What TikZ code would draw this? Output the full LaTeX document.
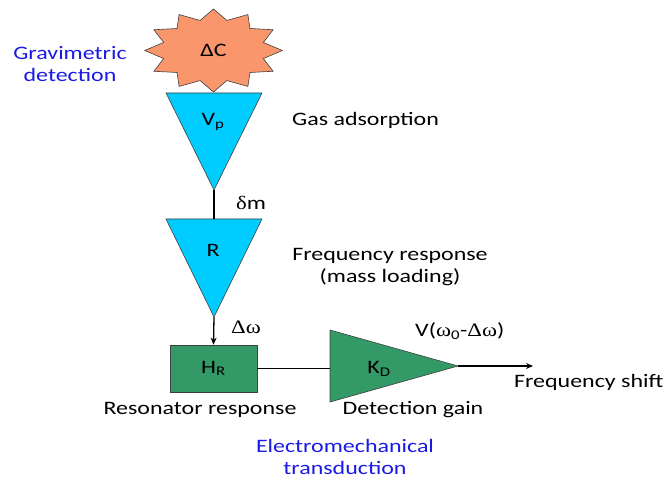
\documentclass[tikz,border=0pt]{standalone}
\usepackage{fontspec}
\setmainfont[FakeStretch=1.26]{Carlito}
\newfontfamily\grk[FakeStretch=1.2]{Liberation Serif}
\usetikzlibrary{arrows.meta}
\definecolor{starorange}{HTML}{F9966B}
\definecolor{cyanfill}{HTML}{00CCFF}
\definecolor{greenfill}{HTML}{339966}
\definecolor{bluetxt}{HTML}{1A1AE6}
\begin{document}
\begin{tikzpicture}[x=1pt,y=-1pt,
  font=\fontsize{19}{22}\selectfont,
  outline/.style={draw=black!75, line width=0.6pt},
  conn/.style={draw=black, line width=1.3pt},
  arr/.style={conn, -{Stealth[length=7pt,width=6pt]}},
  bluetext/.style={text=bluetxt, align=center, inner sep=0pt},
  lbl/.style={inner sep=0pt, anchor=west},
  clbl/.style={inner sep=0pt, align=center}]
\useasboundingbox (0,0) rectangle (666,478);
% star
\draw[outline, fill=starorange] (213.5,9)
  \foreach \i in {1,...,23} { -- ({213.5+68.8*(1-0.25*mod(\i,2))*cos(90+15*\i)}, {50.5-41.5*(1-0.25*mod(\i,2))*sin(90+15*\i)}) } -- cycle;
\node (dc) at (213.5,50.5) {ΔC};
% triangle Vp
\draw[outline, fill=cyanfill] (166,93) -- (262,93) -- (214,190) -- cycle;
\coordinate (vpapex) at (214,190);
\node (vp) at (213,122) {V\textsubscript{p}};
% triangle R
\draw[outline, fill=cyanfill] (166,219) -- (262,219) -- (214,317) -- cycle;
\coordinate (rtop) at (214,219);
\coordinate (rapex) at (214,317);
\node (r) at (213,250) {R};
% box HR
\node[outline, fill=greenfill, minimum width=87pt, minimum height=47pt, inner sep=0pt] (hr) at (213.5,368.5) {H\textsubscript{R}};
% amplifier
\draw[outline, fill=greenfill] (330,330) -- (330,402) -- (458,366) -- cycle;
\coordinate (ampleft) at (330,368.5);
\coordinate (ampapex) at (458,366);
\coordinate (outend) at (533,366);
\node (kd) at (379,369) {K\textsubscript{D}};
% connectors
\draw[conn] (vpapex) -- (rtop);
\draw[arr] (rapex) -- (hr.north);
\draw[conn] (hr.east) -- (ampleft);
\draw[arr] (ampapex) -- (outend);
% labels
\node[bluetext] (grav) at (70,64) {Gravimetric\\detection};
\node[lbl] (gas) at (292,120) {Gas adsorption};
\node[lbl] (dm) at (236,203) {{\grk δ}m};
\node[clbl] (freq) at (390,267) {Frequency response\\(mass loading)};
\node[lbl] (dw) at (231,327) {{\grk Δω}};
\node[lbl] (v) at (415,331) {V({\grk ω}\textsubscript{0}-{\grk Δω})};
\node[lbl] (fs) at (514,382) {Frequency shift};
\node[clbl] (res) at (200,410) {Resonator response};
\node[clbl] (det) at (413,410) {Detection gain};
\node[bluetext] (em) at (345,457) {Electromechanical\\transduction};
\end{tikzpicture}
\end{document}
